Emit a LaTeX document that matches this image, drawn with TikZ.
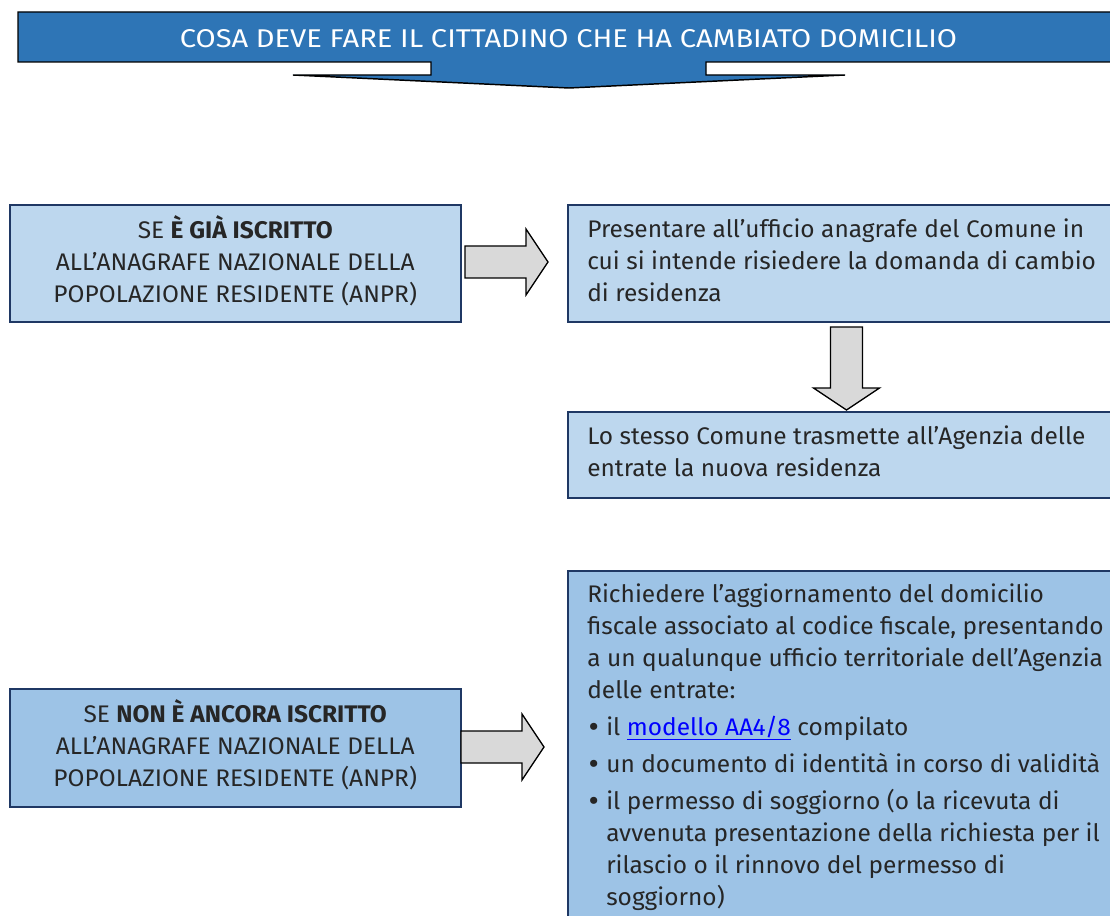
\documentclass[tikz,border=0pt]{standalone}
\usepackage{fontspec}
\setmainfont{Fira Sans}[FakeStretch=1.02]
\usepackage{graphicx}
\usetikzlibrary{calc}
\definecolor{bannerblue}{RGB}{46,117,182}
\definecolor{lightbox}{RGB}{189,215,238}
\definecolor{midbox}{RGB}{157,195,230}
\definecolor{navy}{RGB}{31,56,100}
\definecolor{arrowgray}{RGB}{217,217,217}
\definecolor{ink}{RGB}{38,38,38}
\definecolor{linkblue}{RGB}{0,0,255}
\newcommand{\fst}{\rule{0pt}{16pt}}
\newcommand{\bul}{\makebox[14.25pt][l]{\hspace{1pt}\raisebox{-1.3pt}{\scalebox{1.3}{\textbullet}}}}
\newcommand{\ind}{\hspace*{14.25pt}}
\begin{document}
\begin{tikzpicture}[x=0.75pt,y=-0.75pt,
  boxstyle/.style={draw=navy, line width=1.5pt, rectangle, inner sep=0pt, anchor=north west},
  lightfill/.style={fill=lightbox},
  midfill/.style={fill=midbox},
  bodyfont/.style={font=\fontsize{18pt}{24pt}\selectfont},
  ltxt/.style={bodyfont, text=ink, inner sep=0pt, anchor=north west, align=left},
  ctxt/.style={bodyfont, text=ink, inner sep=0pt, anchor=north, align=center},
  blockarrow/.style={draw=black, line width=1pt, fill=arrowgray, line join=miter},
  rarrow/.pic={\path[blockarrow] (0,-16) -- (61,-16) -- (61,-33) -- (83,0) -- (61,33) -- (61,16) -- (0,16) -- cycle;}
]
\useasboundingbox (0,0) rectangle (1110,916);
% banner
\path[draw=black, line width=1.1pt, fill=bannerblue, line join=miter]
  (18,12) -- (1120,12) -- (1120,62) -- (706,62) -- (706,75) -- (845,75)
  -- (569,88) -- (293,75) -- (431,75) -- (431,62) -- (18,62) -- cycle;
\node[inner sep=0pt, anchor=base, text=white] (title) at (568.5,47.3)
  {\resizebox{582.75pt}{13.5pt}{COSA DEVE FARE IL CITTADINO CHE HA CAMBIATO DOMICILIO}};
% boxes
\node[boxstyle, lightfill, minimum width=338.6pt, minimum height=87.75pt] (b1) at (8.5,204) {};
\node[boxstyle, lightfill, minimum width=411pt, minimum height=87.75pt] (b2) at (567,204) {};
\node[boxstyle, lightfill, minimum width=411pt, minimum height=64.5pt] (b3) at (567,411) {};
\node[boxstyle, midfill, minimum width=411pt, minimum height=272pt] (b4) at (567,569.5) {};
\node[boxstyle, midfill, minimum width=338.6pt, minimum height=88.5pt] (b5) at (8.5,688) {};
% texts
\node[ctxt] (t1) at ($(b1.north)+(0,11.7)$)
  {\fst SE \textbf{È GIÀ ISCRITTO}\\ALL’ANAGRAFE NAZIONALE DELLA\\POPOLAZIONE RESIDENTE (ANPR)};
\node[ltxt] (t2) at ($(b2.north west)+(20,11.7)$)
  {\fst Presentare all’ufficio anagrafe del Comune in\\cui si intende risiedere la domanda di cambio\\di residenza};
\node[ltxt] (t3) at ($(b3.north west)+(20,11.7)$)
  {\fst Lo stesso Comune trasmette all’Agenzia delle\\entrate la nuova residenza};
\node[ltxt] (t4) at ($(b4.north west)+(20,11.2)$)
  {\fst Richiedere l’aggiornamento del domicilio\\
   fiscale associato al codice fiscale, presentando\\
   a un qualunque ufficio territoriale dell’Agenzia\\
   delle entrate:\\[3.75pt]
   \bul il {\color{linkblue}\underline{modello AA4/8}} compilato\\[3.75pt]
   \bul un documento di identità in corso di validità\\[3.75pt]
   \bul il permesso di soggiorno (o la ricevuta di\\
   \ind avvenuta presentazione della richiesta per il\\
   \ind rilascio o il rinnovo del permesso di\\
   \ind soggiorno)};
\node[ctxt] (t5) at ($(b5.north)+(0,11.7)$)
  {\fst SE \textbf{NON È ANCORA ISCRITTO}\\ALL’ANAGRAFE NAZIONALE DELLA\\POPOLAZIONE RESIDENTE (ANPR)};
% block arrows between boxes
\pic at ($(b1.east)+(3,-1.5)$) {rarrow};
\pic[rotate=-90] at ($(b2.south west)+(279.5,4)$) {rarrow};
\pic at ($(b5.east)+(-1,-1)$) {rarrow};
\end{tikzpicture}
\end{document}
